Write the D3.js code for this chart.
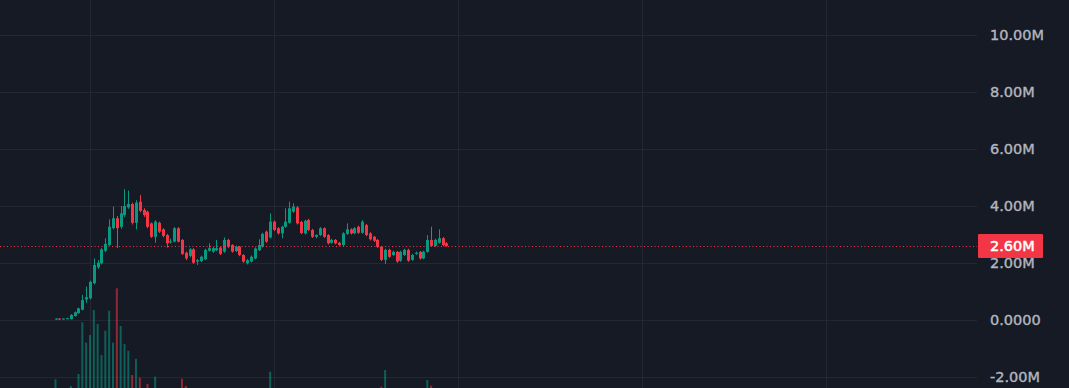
<!DOCTYPE html>
<html>
<head>
<meta charset="utf-8">
<script src="https://cdn.jsdelivr.net/npm/d3@7"></script>
<style>
  html, body { margin: 0; padding: 0; background: #161a25; }
  svg { display: block; }
</style>
</head>
<body>
<div class="canva"></div>
<script>
// prices in millions, one candle every 30 minutes
const opens  = [0.02,0.05,0.03,0.04,0.03,0.14,0.24,0.36,0.72,0.76,1.29,1.85,1.99,2.43,2.63,3.22,3.57,3.27,3.68,3.95,
                4.07,3.41,4.15,3.86,3.80,3.39,2.92,3.41,3.18,2.98,2.72,2.75,3.22,2.81,2.36,2.25,2.48,2.05,2.07,2.13,
                2.43,2.40,2.45,2.54,2.40,2.81,2.63,2.42,2.57,2.28,1.99,2.05,2.16,2.45,2.57,3.10,2.90,3.45,3.22,3.04,
                3.27,3.41,3.80,3.95,3.44,3.04,3.51,3.16,2.92,2.98,3.22,2.98,2.71,2.81,2.71,2.63,3.02,3.18,3.04,3.27,
                3.06,3.33,3.04,2.92,2.81,2.57,2.11,2.46,2.28,2.39,2.08,2.28,2.46,2.11,2.32,2.39,2.16,2.39,2.81,2.60,
                2.71,2.87,2.69];
const highs  = [0.06,0.07,0.06,0.08,0.20,0.30,0.43,0.88,1.17,1.38,2.16,2.10,2.52,2.87,3.53,3.98,3.65,4.00,4.59,4.54,
                4.12,4.20,4.39,3.92,3.84,3.42,3.50,3.45,3.22,3.02,2.85,3.26,3.26,2.84,2.40,2.52,2.52,2.14,2.26,2.50,
                2.69,2.56,2.81,2.58,2.90,2.85,2.66,2.61,2.60,2.31,2.14,2.26,2.55,2.83,3.06,3.14,3.74,3.49,3.26,3.31,
                3.92,4.15,4.09,4.00,3.48,3.52,3.55,3.20,3.01,3.26,3.25,3.01,2.85,2.84,2.74,3.08,3.39,3.22,3.26,3.31,
                3.50,3.37,3.08,2.95,2.84,2.60,2.50,2.50,2.43,2.42,2.43,2.50,2.50,2.32,2.40,2.42,2.43,2.98,3.27,2.85,
                3.18,2.91,2.73];
const lows   = [0.01,0.01,0.02,0.03,0.02,0.12,0.22,0.34,0.60,0.72,1.25,1.79,1.95,2.38,2.60,3.18,2.52,3.20,3.62,3.90,
                3.35,3.18,3.78,3.62,3.22,2.88,2.71,3.05,2.90,2.54,2.68,2.72,2.72,2.28,2.10,2.20,1.97,1.93,2.03,2.10,
                2.40,2.36,2.42,2.28,2.36,2.53,2.36,2.38,2.24,2.01,1.95,2.02,2.13,2.42,2.54,2.71,2.86,3.12,3.00,2.87,
                3.24,3.38,3.76,3.35,3.01,3.00,3.12,2.88,2.87,2.95,2.88,2.65,2.68,2.66,2.60,2.60,2.99,3.00,3.01,3.02,
                3.03,2.94,2.79,2.74,2.53,2.07,1.96,2.18,2.25,2.01,2.04,2.25,2.04,2.08,2.29,2.12,2.13,2.36,2.57,2.57,
                2.68,2.59,2.57];
const closes = [0.05,0.02,0.05,0.06,0.18,0.27,0.41,0.70,0.80,1.34,1.93,2.01,2.48,2.67,3.27,3.57,3.22,3.74,4.00,4.07,
                3.41,4.12,3.83,3.68,3.27,2.92,3.45,3.10,2.95,2.69,2.76,3.22,2.75,2.32,2.16,2.48,2.01,2.10,2.22,2.46,
                2.52,2.52,2.52,2.32,2.81,2.57,2.40,2.57,2.28,2.05,2.10,2.22,2.51,2.63,3.02,2.75,3.45,3.16,3.04,3.27,
                3.45,3.92,3.98,3.39,3.05,3.48,3.16,2.92,2.98,3.22,2.92,2.69,2.81,2.69,2.63,3.04,3.18,3.04,3.22,3.06,
                3.45,2.98,2.83,2.78,2.57,2.11,2.46,2.22,2.39,2.05,2.39,2.46,2.08,2.28,2.36,2.16,2.39,2.81,2.60,2.81,
                2.87,2.63,2.60];
// volume (thousands)
const volumes = [207,40,30,50,140,90,260,777,573,650,900,760,450,693,893,573,1117,740,560,493,
                 250,410,223,100,160,110,233,90,80,70,60,95,85,213,140,75,70,55,60,80,
                 65,50,60,55,90,60,50,45,55,60,50,45,70,65,90,80,283,70,50,55,
                 75,100,80,95,70,60,55,50,40,45,50,55,40,35,40,60,50,45,40,50,
                 70,60,50,45,55,133,300,60,40,55,60,45,50,40,35,40,50,200,143,60,
                 50,45,40];
const priceTicks = [-2, 0, 2, 4, 6, 8, 10];
const lastPrice = closes[closes.length - 1];

const width = 1069, height = 388;
const paneRight = 977;

const svg = d3.select('.canva').append('svg')
    .attr('width', width)
    .attr('height', height);

svg.append('rect').attr('width', width).attr('height', height).attr('fill', '#161a25');

const t0 = new Date(2024, 0, 1, 19, 30);
const times = closes.map((d, i) => d3.timeMinute.offset(t0, 30 * i));

const x = d3.scaleTime()
    .domain([times[0], times[times.length - 1]])
    .range([55.5, 55.5 + 3.833 * (times.length - 1)]);

const y = d3.scaleLinear().domain([-2, 10]).range([377, 35]);
const vy = d3.scaleLinear().domain([0, 1120]).range([400, 288]);

// grid
const grid = svg.append('g');
const dayTicks = d3.timeDay.range(x.invert(0), x.invert(paneRight));
grid.selectAll('line.v').data(dayTicks).enter().append('line')
    .attr('x1', d => Math.round(x(d)) + 0.5).attr('x2', d => Math.round(x(d)) + 0.5)
    .attr('y1', 0).attr('y2', height)
    .attr('stroke', '#242733');
grid.selectAll('line.h').data(priceTicks).enter().append('line')
    .attr('x1', 0).attr('x2', paneRight)
    .attr('y1', d => Math.round(y(d)) + 0.5).attr('y2', d => Math.round(y(d)) + 0.5)
    .attr('stroke', '#242733');

// volume
const up = i => closes[i] >= opens[i];
svg.append('g').selectAll('rect').data(volumes).enter().append('rect')
    .attr('x', (d, i) => x(times[i]) - 1)
    .attr('width', 2)
    .attr('y', d => vy(d))
    .attr('height', d => vy(0) - vy(d))
    .attr('fill', (d, i) => up(i) ? 'rgba(8,153,129,0.55)' : 'rgba(242,54,69,0.55)');

// candles
const candles = svg.append('g').selectAll('g').data(closes).enter().append('g');
candles.append('line')
    .attr('x1', (d, i) => Math.round(x(times[i])) + 0.5)
    .attr('x2', (d, i) => Math.round(x(times[i])) + 0.5)
    .attr('y1', (d, i) => y(highs[i]))
    .attr('y2', (d, i) => y(lows[i]))
    .attr('stroke', (d, i) => up(i) ? '#089981' : '#f23645');
candles.append('rect')
    .attr('x', (d, i) => Math.round(x(times[i])) - 1)
    .attr('width', 3)
    .attr('y', (d, i) => y(Math.max(opens[i], closes[i])))
    .attr('height', (d, i) => Math.max(1, Math.abs(y(opens[i]) - y(closes[i]))))
    .attr('fill', (d, i) => up(i) ? '#089981' : '#f23645');

// last price line
svg.append('line')
    .attr('x1', 0).attr('x2', paneRight)
    .attr('y1', Math.round(y(lastPrice)) + 0.5).attr('y2', Math.round(y(lastPrice)) + 0.5)
    .attr('stroke', '#f23645')
    .attr('stroke-dasharray', '1,2.5');

// price axis (plain hyphen for negatives)
const fmt = v => v === 0 ? '0.0000' : (v < 0 ? '-' : '') + d3.format('.2f')(Math.abs(v)) + 'M';
const yAxis = d3.axisRight(y).tickValues(priceTicks).tickSize(0).tickPadding(0).tickFormat(fmt);
const yAxisGroup = svg.append('g').attr('transform', 'translate(990, 0)').call(yAxis);
yAxisGroup.select('.domain').remove();
yAxisGroup.selectAll('text')
    .attr('fill', '#b2b5be')
    .attr('stroke', '#b2b5be')
    .attr('stroke-width', 0.4)
    .style('font-family', '"DejaVu Sans", sans-serif')
    .style('font-size', '14.5px');

// last price label
const ly = y(lastPrice);
svg.append('rect')
    .attr('x', 978).attr('y', ly - 12)
    .attr('width', 65).attr('height', 24)
    .attr('rx', 1)
    .attr('fill', '#f23645');
svg.append('text')
    .attr('x', 990).attr('y', ly)
    .attr('dy', '0.35em')
    .attr('fill', '#ffffff')
    .attr('stroke', '#ffffff')
    .attr('stroke-width', 0.5)
    .style('font-family', '"DejaVu Sans", sans-serif')
    .style('font-size', '14.5px')
    .text(fmt(lastPrice));
</script>
</body>
</html>
